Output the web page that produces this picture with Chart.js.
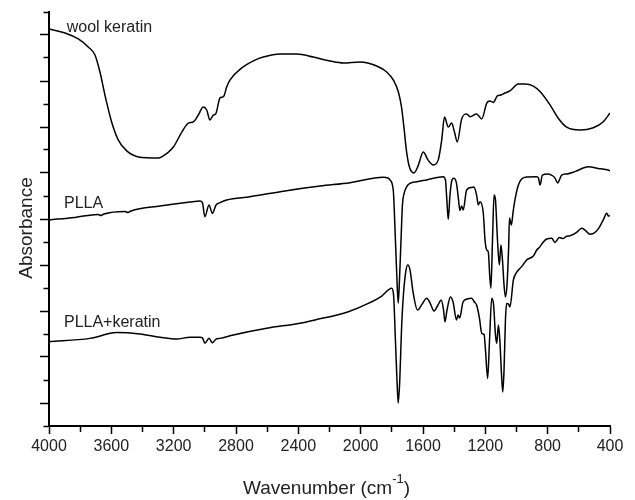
<!DOCTYPE html>
<html>
<head>
<meta charset="utf-8">
<title>FTIR spectra</title>
<script src="https://cdn.jsdelivr.net/npm/chart.js@4.4.1/dist/chart.umd.min.js"></script>
<style>
  body { margin: 0; background: #fff; }
  #wrap { width: 635px; height: 500px; }
</style>
</head>
<body>
<div id="wrap"><canvas id="myChart" width="635" height="500"></canvas></div>
<script>
// wavenumbers (cm-1) and absorbance (offset)
const woolWn = [4000,3897,3812,3748,3705,3673,3641,3598,3555,3501,3427,3299,3277,3202,3148,3106,3074,3042,3010,2988,2967,2946,2930,2903,2888,2877,2860,2839,2763,2678,2625,2518,2411,2304,2197,2111,2004,1897,1833,1790,1758,1737,1722,1705,1687,1658,1632,1598,1568,1534,1502,1480,1462,1438,1416,1398,1380,1352,1320,1298,1256,1223,1191,1170,1149,1123,1100,1074,1042,988,945,892,849,785,732,678,593,507,443,400];
const woolAbs = [1.626,1.609,1.583,1.548,1.513,1.439,1.339,1.222,1.143,1.096,1.070,1.065,1.070,1.113,1.178,1.217,1.222,1.252,1.287,1.274,1.230,1.252,1.257,1.326,1.330,1.335,1.374,1.404,1.457,1.491,1.504,1.517,1.517,1.504,1.487,1.478,1.483,1.465,1.439,1.404,1.352,1.283,1.196,1.091,1.026,1.000,1.030,1.091,1.057,1.035,1.057,1.143,1.243,1.200,1.217,1.178,1.135,1.235,1.257,1.245,1.257,1.235,1.304,1.313,1.307,1.335,1.339,1.348,1.357,1.387,1.387,1.378,1.354,1.296,1.238,1.199,1.187,1.197,1.223,1.261];

const pllaWn = [4000,3833,3686,3666,3647,3512,3493,3474,3288,3095,3031,3015,3000,2973,2952,2928,2903,2860,2710,2486,2261,2068,1855,1825,1812,1791,1777,1767,1759,1751,1741,1732,1722,1706,1683,1640,1576,1470,1456,1447,1438,1427,1414,1402,1385,1372,1363,1352,1342,1320,1288,1273,1256,1245,1234,1213,1202,1191,1181,1172,1164,1154,1144,1135,1122,1110,1100,1090,1080,1071,1061,1051,1045,1033,1022,1010,988,967,935,870,859,849,834,798,766,753,736,710,676,625,539,475,426,400];
const pllaAbs = [0.796,0.807,0.820,0.815,0.822,0.833,0.828,0.835,0.857,0.874,0.878,0.870,0.810,0.861,0.825,0.861,0.871,0.883,0.897,0.922,0.943,0.958,0.981,0.978,0.970,0.926,0.709,0.535,0.435,0.535,0.709,0.861,0.909,0.939,0.955,0.962,0.970,0.984,0.970,0.883,0.798,0.904,0.970,0.977,0.955,0.883,0.837,0.857,0.839,0.926,0.937,0.939,0.904,0.861,0.875,0.825,0.709,0.665,0.657,0.557,0.499,0.709,0.904,0.883,0.709,0.600,0.687,0.622,0.513,0.461,0.513,0.665,0.804,0.774,0.830,0.883,0.948,0.974,0.983,0.984,0.978,0.948,0.991,0.996,0.987,0.978,0.957,0.991,0.996,1.006,1.027,1.020,1.015,1.010];

const blendWn = [4000,3737,3566,3416,3288,3181,3095,3031,3015,3000,2973,2952,2928,2903,2817,2603,2389,2293,2079,1951,1865,1801,1789,1777,1767,1759,1749,1738,1728,1712,1698,1683,1664,1635,1606,1576,1555,1529,1504,1483,1468,1459,1446,1424,1407,1385,1375,1365,1343,1317,1288,1270,1256,1238,1223,1208,1199,1185,1173,1159,1147,1135,1127,1116,1107,1096,1088,1080,1071,1063,1051,1042,1020,997,967,935,892,870,849,828,806,774,753,725,701,682,657,614,582,560,528,503,475,443,421,410,400];
const blendAbs = [0.267,0.281,0.306,0.300,0.286,0.278,0.286,0.286,0.283,0.260,0.281,0.262,0.278,0.281,0.296,0.325,0.347,0.361,0.397,0.433,0.465,0.499,0.470,0.274,0.100,0.000,0.100,0.317,0.448,0.565,0.600,0.578,0.483,0.404,0.430,0.455,0.435,0.400,0.426,0.448,0.404,0.353,0.404,0.461,0.439,0.361,0.383,0.370,0.439,0.452,0.455,0.439,0.426,0.370,0.303,0.298,0.230,0.107,0.274,0.455,0.426,0.296,0.260,0.339,0.274,0.122,0.048,0.143,0.361,0.433,0.430,0.417,0.535,0.570,0.593,0.622,0.639,0.665,0.680,0.700,0.713,0.716,0.698,0.720,0.715,0.724,0.727,0.742,0.760,0.752,0.734,0.739,0.757,0.796,0.825,0.813,0.814];

const seriesNames = ["wool keratin", "PLLA", "PLLA+keratin"];

// axis ticks
const xTicks = [4000,3800,3600,3400,3200,3000,2800,2600,2400,2200,2000,1800,1600,1400,1200,1000,800,600,400];
const xLabelled = [4000,3600,3200,2800,2400,2000,1600,1200,800,400];
const yTicks = [-0.1,0,0.1,0.2,0.3,0.4,0.5,0.6,0.7,0.8,0.9,1.0,1.1,1.2,1.3,1.4,1.5,1.6,1.7];

const FONT = '"Liberation Sans", Arial, sans-serif';
const cxt = document.querySelector("#myChart");

function toPoints(xs, ys) {
  const n = Math.min(xs.length, ys.length);
  const pts = [];
  for (let i = 0; i < n; i++) pts.push({ x: xs[i], y: ys[i] });
  return pts;
}

function lineSet(label, xs, ys) {
  return {
    label: label,
    data: toPoints(xs, ys),
    borderColor: "#000",
    borderWidth: 1.5,
    pointRadius: 0,
    fill: false,
    cubicInterpolationMode: "monotone",
  };
}

// curve names next to each spectrum, and the two axis titles
const textPlugin = {
  id: "texts",
  afterDraw(chart) {
    const { ctx, chartArea, scales } = chart;
    const x = scales.x, y = scales.y;
    const anchors = [[3886, 1.615], [3904, 0.846], [3904, 0.330]];
    ctx.save();
    ctx.fillStyle = "#222";
    ctx.textBaseline = "alphabetic";
    ctx.textAlign = "left";
    ctx.font = "16px " + FONT;
    seriesNames.forEach((name, i) => {
      ctx.fillText(name, x.getPixelForValue(anchors[i][0]), y.getPixelForValue(anchors[i][1]));
    });

    // y title
    ctx.save();
    ctx.font = "19px " + FONT;
    ctx.translate(chartArea.left - 17, (chartArea.top + chartArea.bottom) / 2 + 9);
    ctx.rotate(-Math.PI / 2);
    ctx.textAlign = "center";
    ctx.fillText("Absorbance", 0, 0);
    ctx.restore();

    // x title with superscript -1
    const main = "Wavenumber (cm", sup = "-1", tail = ")";
    ctx.font = "19px " + FONT;
    const w1 = ctx.measureText(main).width;
    const w3 = ctx.measureText(tail).width;
    ctx.font = "13px " + FONT;
    const w2 = ctx.measureText(sup).width;
    const cx = (chartArea.left + chartArea.right) / 2 - 3;
    let sx = cx - (w1 + w2 + w3) / 2;
    const base = chartArea.bottom + 68;
    ctx.font = "19px " + FONT;
    ctx.fillText(main, sx, base);
    ctx.font = "13px " + FONT;
    ctx.fillText(sup, sx + w1, base - 11);
    ctx.font = "19px " + FONT;
    ctx.fillText(tail, sx + w1 + w2, base);
    ctx.restore();
  },
};

const config = {
  type: "line",
  data: {
    datasets: [
      lineSet(seriesNames[0], woolWn, woolAbs),
      lineSet(seriesNames[1], pllaWn, pllaAbs),
      lineSet(seriesNames[2], blendWn, blendAbs),
    ],
  },
  options: {
    responsive: false,
    animation: false,
    layout: { padding: { top: 12, right: 25, left: 0, bottom: 0 } },
    plugins: {
      legend: { display: false },
      tooltip: { enabled: false },
    },
    scales: {
      x: {
        type: "linear",
        reverse: true,
        min: 400,
        max: 4000,
        afterBuildTicks: (s) => { s.ticks = xTicks.map((v) => ({ value: v })); },
        afterFit: (s) => { s.height = 74; },
        ticks: {
          autoSkip: false,
          maxRotation: 0,
          padding: 3,
          color: "#222",
          font: { size: 16, family: FONT },
          callback: (v) => (xLabelled.includes(v) ? String(v) : ""),
        },
        grid: {
          drawOnChartArea: false,
          tickLength: 8,
          tickWidth: 1.5,
          tickColor: "#000",
          tickBorderDash: (c) => (c.tick && xLabelled.includes(c.tick.value) ? [] : [5, 100]),
        },
        border: { color: "#000", width: 2 },
      },
      y: {
        type: "linear",
        min: -0.1,
        max: 1.7,
        afterBuildTicks: (s) => { s.ticks = yTicks.map((v) => ({ value: v })); },
        afterFit: (s) => { s.width = 49; },
        ticks: { display: false },
        grid: {
          drawOnChartArea: false,
          tickLength: 9,
          tickWidth: 1.5,
          tickColor: "#000",
          tickBorderDash: (c) => (c.tick && Math.round(c.tick.value * 10) % 2 === 0 ? [] : [0, 3.5, 100, 0]),
        },
        border: { color: "#000", width: 2 },
      },
    },
  },
  plugins: [textPlugin],
};

new Chart(cxt, config);
</script>
</body>
</html>
